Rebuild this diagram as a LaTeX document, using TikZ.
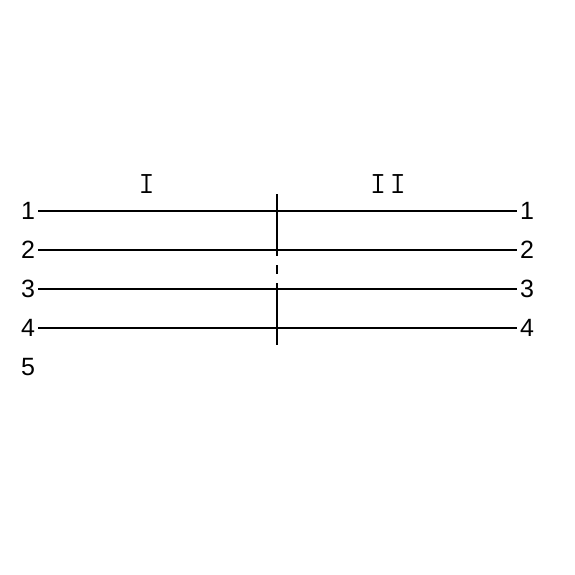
\documentclass[tikz,border=0pt]{standalone}
\usepackage{fontspec}
\setmainfont{Liberation Sans}
\usetikzlibrary{positioning}
\tikzstyle{num} = [inner sep=3pt, font=\fontsize{25}{25}\selectfont]
\tikzstyle{wire} = [line width=1.3pt]
\tikzstyle{heavy} = [line width=1.8pt]
\tikzstyle{part} = [inner sep=0pt, font=\ttfamily\fontsize{31}{31}\selectfont]

\begin{document}
\begin{tikzpicture}[x=1pt, y=-1pt]
\useasboundingbox (0,0) rectangle (575,575);
\node [num] (l1) at (28,211) {1};
\node [num] (l2) at (28,250) {2};
\node [num] (l3) at (28,289) {3};
\node [num] (l4) at (28,328) {4};
\node [num] (l5) at (28,367) {5};
\node [num] (r1) at (527,211) {1};
\node [num] (r2) at (527,250) {2};
\node [num] (r3) at (527,289) {3};
\node [num] (r4) at (527,328) {4};
\node [part] (p1) at (146.5,184.5) {I};
\node [part] (p2) at (388,184.5) {I\kern3.7pt I};
\draw [wire] (l1) to (r1);
\draw [heavy] (l2) to (r2);
\draw [wire] (l3) to (r3);
\draw [heavy] (l4) to (r4);
% cut line
\coordinate (c1) at (277,194);
\coordinate (c2) at (277,256);
\coordinate (c3) at (277,265);
\coordinate (c4) at (277,274);
\coordinate (c5) at (277,283);
\coordinate (c6) at (277,345);
\draw [wire] (c1) to (c2);
\draw [wire] (c3) to (c4);
\draw [wire] (c5) to (c6);
\end{tikzpicture}
\end{document}
